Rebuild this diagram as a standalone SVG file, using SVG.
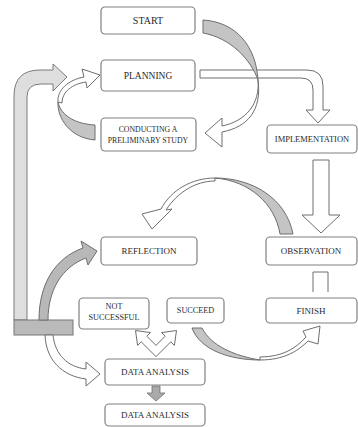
<svg xmlns="http://www.w3.org/2000/svg" width="358" height="427" viewBox="0 0 358 427">
<style>
.box{fill:#fff;stroke:#808080;stroke-width:1.2}
.t{font-family:"Liberation Serif","DejaVu Serif",serif;font-size:9px;fill:#2a2a2a;text-anchor:middle}
.wa{fill:#fff;stroke:#6e6e6e;stroke-width:1}
.ga{fill:#c4c4c4;stroke:#6e6e6e;stroke-width:1}
.la{fill:#dedede;stroke:#7a7a7a;stroke-width:1}
.ln{fill:none;stroke:#6e6e6e;stroke-width:1}
</style>
<rect width="358" height="427" fill="#fff"/>
<g id="connectors">
  <path class="la" d="M14,320 L14,96 Q14,70 40,70 L53,70 L53,64 L67,77 L53,91 L53,84 L41,84 Q27,84 27,97 L27,320 Z"/>
  <rect id="bar" x="14" y="320" width="59" height="15" fill="#bababa" stroke="#777" stroke-width="1"/>
  <path class="ga" d="M95,125 C76,124 61,116 58,102 C57,118 70,138 95,140 Z"/>
  <path class="wa" d="M58,102 C57,90 68,80 84,77 L82,69 L100,75 L87,88 L86,82 C72,84 62,92 62,103 Z"/>
  <path class="wa" d="M200,70 L307,70 Q323,70 323,86 L323,110 L330,110 L318,123 L306,110 L313,110 L313,90 Q313,78 301,78 L200,78 Z"/>
  <path class="ga" d="M203,20 C236,22 256,46 258,80 C251,60 231,38 203,33 Z"/>
  <path class="wa" d="M258,80 C260,104 246,121 222,126 L222,118 L205,133 L222,147 L222,132 C248,127 262,110 258,80 Z"/>
  <path class="wa" d="M313,160 L329,160 L329,215 L340,215 L321,233 L302,215 L313,215 Z"/>
  <path class="ga" d="M293,234 C286,198 252,178 215,178 C250,181 275,204 280,234 Z"/>
  <path class="wa" d="M215,178 C192,178 171,190 161,209 L142,214 L152,229 L172,209 L166,210 C177,193 195,181 215,181 Z"/>
  <path class="ln" d="M313,292 L313,272 L328,272 L328,292"/>
  <path fill="#b8b8b8" stroke="#6e6e6e" stroke-width="1" d="M39,320 C39,284 55,258 83,248 L81,241 L97,251 L88,265 L86,258 C62,267 48,290 48,320 Z"/>
  <path class="wa" d="M45,335 C46,360 62,376 86,379 L86,386 L100,374 L86,362 L86,369 C68,367 55,355 53,335 Z"/>
  <path class="wa" d="M156,356.6 L141.2,341.8 L137.6,345.4 L135.5,330.5 L150.4,332.6 L146.8,336.2 L156,345.4 L165.2,336.2 L161.6,332.6 L176.5,330.5 L174.4,345.4 L170.8,341.8 Z"/>
  <path fill="#aaa" stroke="#6e6e6e" stroke-width="0.8" d="M152,386 L160,386 L160,393 L165,393 L156,401 L147,393 L152,393 Z"/>
  <path class="ga" d="M192,328 C200,350 230,360 260,360 C235,356 211,346 202,328 Z"/>
  <path class="wa" d="M260,360 C284,360 298,351 308,341 L318,344 L320,326 L303,331 L306,337 C296,348 283,357 260,357 Z"/>
</g>
<g id="start"><rect class="box" x="101" y="7" width="94" height="27" rx="4"/><text class="t" x="148" y="24" style="font-size:10px">START</text></g>
<g id="planning"><rect class="box" x="101" y="60" width="94" height="31" rx="4"/><text class="t" x="148" y="79" style="font-size:9.5px">PLANNING</text></g>
<g id="conducting"><rect class="box" x="101" y="118" width="95" height="33" rx="4"/><text class="t" x="148" y="132" style="font-size:7.8px">CONDUCTING A</text><text class="t" x="148" y="143" style="font-size:7.8px">PRELIMINARY STUDY</text></g>
<g id="implementation"><rect class="box" x="267" y="125" width="90" height="28" rx="4"/><text class="t" x="312" y="142" style="font-size:8.5px">IMPLEMENTATION</text></g>
<g id="reflection"><rect class="box" x="101" y="237" width="96" height="28" rx="4"/><text class="t" x="149" y="254">REFLECTION</text></g>
<g id="observation"><rect class="box" x="266" y="237" width="91" height="28" rx="4"/><text class="t" x="311" y="254">OBSERVATION</text></g>
<g id="not-successful"><rect class="box" x="79" y="298" width="70" height="31" rx="4"/><text class="t" x="114" y="309" style="font-size:8.2px">NOT</text><text class="t" x="114" y="320" style="font-size:8.2px">SUCCESSFUL</text></g>
<g id="succeed"><rect class="box" x="167" y="298" width="57" height="25" rx="4"/><text class="t" x="195.5" y="313" style="font-size:8.2px">SUCCEED</text></g>
<g id="finish"><rect class="box" x="266" y="298" width="91" height="25" rx="4"/><text class="t" x="311" y="314">FINISH</text></g>
<g id="data-analysis-1"><rect class="box" x="105" y="359" width="100" height="26" rx="4"/><text class="t" x="155" y="375">DATA ANALYSIS</text></g>
<g id="data-analysis-2"><rect class="box" x="105" y="404" width="100" height="22" rx="4"/><text class="t" x="155" y="418">DATA ANALYSIS</text></g>
</svg>
